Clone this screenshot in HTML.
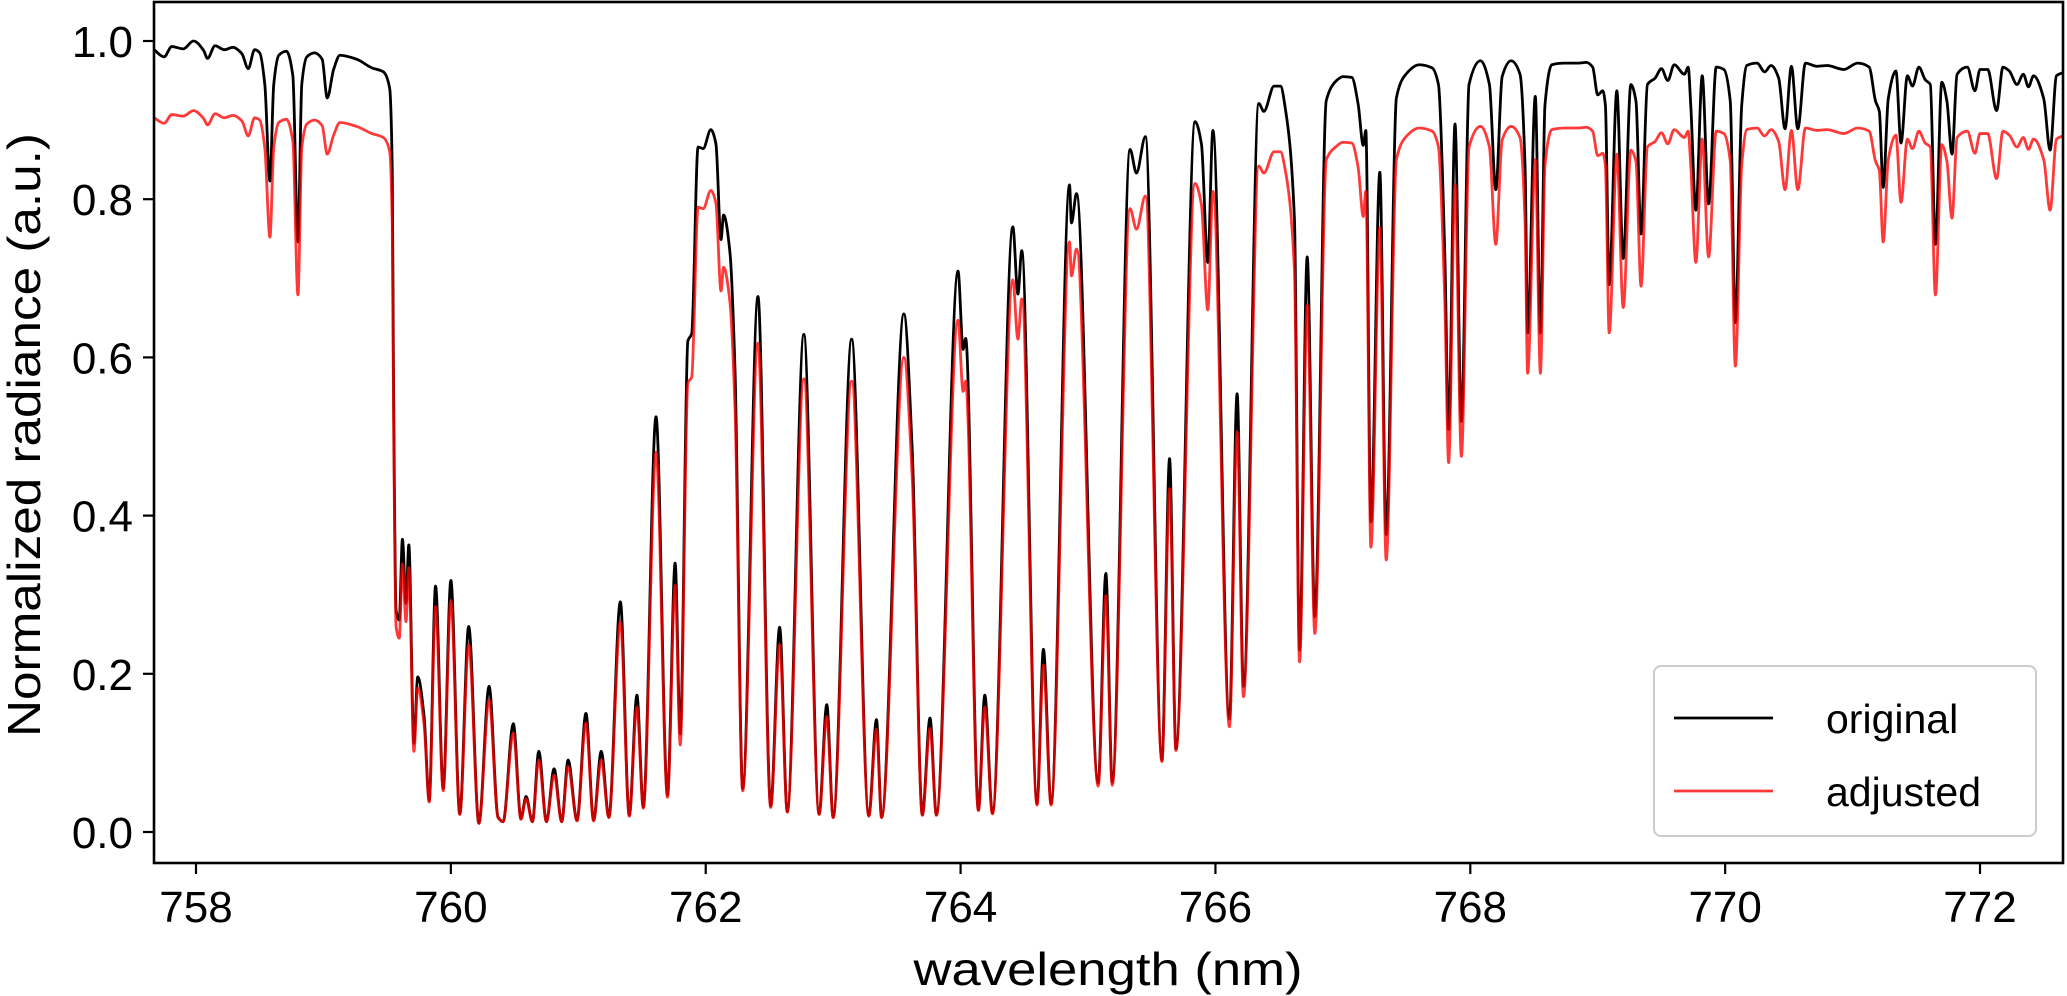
<!DOCTYPE html>
<html>
<head>
<meta charset="utf-8">
<style>
  html,body{margin:0;padding:0;background:#fff;}
  svg{display:block;}
  text{font-family:"Liberation Sans",Arial,sans-serif;fill:#000;}
</style>
</head>
<body>
<svg id="chart" width="2067" height="996" viewBox="0 0 2067 996" xmlns="http://www.w3.org/2000/svg">
  <g id="plot"></g>
  <g id="axes"></g>
  <text x="1108" y="985" text-anchor="middle" font-size="46" textLength="389" lengthAdjust="spacingAndGlyphs">wavelength (nm)</text>
  <text transform="translate(40,435) rotate(-90)" text-anchor="middle" font-size="46" textLength="604" lengthAdjust="spacingAndGlyphs">Normalized radiance (a.u.)</text>
  <g>
    <rect x="1654" y="666" width="382" height="170" rx="7" ry="7" fill="#fff" fill-opacity="0.85" stroke="#cccccc" stroke-width="2"/>
    <line x1="1674" y1="718" x2="1773" y2="718" stroke="#000" stroke-width="2.8"/>
    <text x="1826" y="733" font-size="41">original</text>
    <line x1="1674" y1="791" x2="1773" y2="791" stroke="rgba(255,0,0,0.78)" stroke-width="2.8"/>
    <text x="1826" y="806" font-size="41">adjusted</text>
  </g>
</svg>
<script>
const wavelengths = [757.67,757.75,757.81,757.90,757.98,758.06,758.09,758.15,758.22,758.29,758.36,758.41,758.46,758.50,758.54,758.58,758.61,758.65,758.71,758.76,758.80,758.83,758.87,758.93,758.99,759.03,759.08,759.13,759.26,759.38,759.47,759.52,759.54,759.55,759.57,759.595,759.62,759.648,759.67,759.71,759.74,759.79,759.83,759.88,759.94,760.00,760.07,760.14,760.22,760.30,760.37,760.41,760.49,760.55,760.59,760.64,760.69,760.75,760.81,760.87,760.92,760.99,761.06,761.12,761.18,761.24,761.33,761.40,761.46,761.51,761.61,761.70,761.76,761.80,761.86,761.89,761.94,761.98,762.04,762.08,762.12,762.14,762.19,762.23,762.29,762.41,762.51,762.58,762.64,762.77,762.89,762.95,763.00,763.145,763.28,763.34,763.38,763.555,763.62,763.70,763.76,763.81,763.98,764.02,764.04,764.14,764.19,764.25,764.41,764.45,764.48,764.60,764.65,764.71,764.855,764.87,764.91,765.08,765.14,765.19,765.33,765.38,765.45,765.58,765.64,765.69,765.84,765.89,765.94,765.98,766.11,766.17,766.22,766.34,766.38,766.46,766.51,766.55,766.62,766.66,766.72,766.78,766.87,766.95,767.00,767.07,767.12,767.16,767.18,767.22,767.29,767.34,767.42,767.48,767.60,767.70,767.75,767.80,767.83,767.88,767.93,767.99,768.08,768.15,768.20,768.25,768.32,768.39,768.43,768.45,768.51,768.55,768.586,768.64,768.74,768.85,768.91,768.96,769.00,769.04,769.06,769.09,769.15,769.20,769.26,769.30,769.34,769.39,769.45,769.50,769.55,769.60,769.68,769.71,769.73,769.77,769.82,769.87,769.93,769.99,770.04,770.08,770.13,770.17,770.25,770.31,770.36,770.42,770.47,770.52,770.57,770.63,770.72,770.80,770.93,771.04,771.13,771.18,771.21,771.24,771.28,771.34,771.38,771.43,771.47,771.52,771.57,771.61,771.65,771.70,771.74,771.78,771.82,771.90,771.96,772.00,772.06,772.13,772.18,772.23,772.29,772.34,772.38,772.42,772.50,772.55,772.60,772.65];
const original = [0.989,0.980,0.993,0.990,1.000,0.988,0.978,0.994,0.989,0.992,0.984,0.965,0.989,0.985,0.945,0.823,0.945,0.982,0.987,0.956,0.746,0.945,0.980,0.985,0.977,0.928,0.964,0.982,0.977,0.966,0.961,0.940,0.839,0.573,0.280,0.268,0.370,0.289,0.363,0.112,0.196,0.146,0.040,0.311,0.055,0.318,0.023,0.260,0.011,0.184,0.019,0.013,0.137,0.017,0.045,0.013,0.102,0.013,0.080,0.013,0.091,0.015,0.150,0.015,0.102,0.019,0.291,0.021,0.173,0.032,0.525,0.047,0.340,0.124,0.621,0.630,0.866,0.864,0.888,0.870,0.749,0.780,0.733,0.583,0.055,0.677,0.033,0.259,0.026,0.629,0.023,0.161,0.019,0.623,0.021,0.142,0.019,0.655,0.485,0.022,0.144,0.022,0.709,0.610,0.624,0.028,0.173,0.024,0.765,0.680,0.735,0.036,0.231,0.036,0.818,0.770,0.807,0.062,0.327,0.063,0.863,0.833,0.879,0.091,0.472,0.105,0.898,0.870,0.720,0.887,0.143,0.554,0.184,0.921,0.911,0.943,0.943,0.913,0.775,0.230,0.727,0.272,0.925,0.950,0.955,0.954,0.920,0.868,0.887,0.392,0.834,0.376,0.928,0.955,0.970,0.966,0.945,0.730,0.509,0.895,0.519,0.945,0.975,0.945,0.812,0.955,0.975,0.958,0.840,0.631,0.930,0.631,0.919,0.970,0.972,0.972,0.973,0.967,0.932,0.937,0.919,0.692,0.937,0.725,0.945,0.924,0.756,0.945,0.953,0.965,0.950,0.970,0.958,0.967,0.919,0.786,0.956,0.794,0.967,0.964,0.924,0.644,0.919,0.969,0.972,0.961,0.969,0.953,0.889,0.968,0.889,0.972,0.968,0.969,0.964,0.972,0.967,0.924,0.911,0.815,0.927,0.962,0.871,0.956,0.943,0.967,0.951,0.945,0.743,0.948,0.924,0.857,0.958,0.967,0.937,0.964,0.964,0.912,0.967,0.962,0.945,0.958,0.942,0.956,0.927,0.862,0.956,0.960];
const adjusted = [0.903,0.896,0.907,0.905,0.912,0.902,0.894,0.908,0.903,0.906,0.899,0.880,0.903,0.900,0.865,0.752,0.865,0.897,0.901,0.873,0.679,0.865,0.895,0.900,0.893,0.857,0.881,0.897,0.892,0.883,0.878,0.860,0.770,0.530,0.260,0.245,0.339,0.266,0.334,0.102,0.182,0.136,0.038,0.285,0.052,0.293,0.022,0.237,0.011,0.167,0.018,0.013,0.125,0.016,0.042,0.013,0.091,0.013,0.072,0.013,0.083,0.014,0.138,0.014,0.091,0.018,0.266,0.020,0.158,0.030,0.480,0.044,0.312,0.110,0.568,0.575,0.790,0.788,0.811,0.795,0.684,0.714,0.670,0.535,0.052,0.618,0.031,0.237,0.025,0.573,0.022,0.146,0.018,0.570,0.020,0.130,0.018,0.600,0.450,0.021,0.131,0.021,0.647,0.557,0.570,0.027,0.158,0.023,0.698,0.623,0.674,0.034,0.211,0.034,0.746,0.703,0.737,0.058,0.299,0.059,0.788,0.762,0.804,0.089,0.434,0.103,0.820,0.793,0.660,0.810,0.133,0.506,0.171,0.842,0.833,0.860,0.860,0.835,0.710,0.215,0.666,0.251,0.850,0.867,0.872,0.871,0.840,0.778,0.810,0.360,0.764,0.344,0.850,0.876,0.890,0.886,0.866,0.670,0.467,0.818,0.475,0.866,0.892,0.866,0.743,0.875,0.892,0.878,0.770,0.580,0.850,0.580,0.843,0.888,0.890,0.890,0.891,0.886,0.855,0.858,0.843,0.631,0.857,0.663,0.862,0.848,0.690,0.866,0.873,0.884,0.870,0.888,0.878,0.886,0.843,0.720,0.876,0.727,0.886,0.883,0.848,0.589,0.843,0.888,0.890,0.880,0.888,0.873,0.812,0.887,0.812,0.890,0.887,0.888,0.883,0.890,0.886,0.848,0.836,0.746,0.850,0.881,0.796,0.876,0.864,0.886,0.871,0.866,0.679,0.869,0.848,0.776,0.878,0.886,0.858,0.883,0.883,0.826,0.886,0.881,0.866,0.878,0.863,0.876,0.850,0.786,0.876,0.880];
const xTicks = [758,760,762,764,766,768,770,772];
const xTickLabels = ["758","760","762","764","766","768","770","772"];
const yTicks = [0.0,0.2,0.4,0.6,0.8,1.0];
const yTickLabels = ["0.0","0.2","0.4","0.6","0.8","1.0"];

const NS = "http://www.w3.org/2000/svg";
const L = 154, R = 2063, T = 2, B = 863;
function xs(v){ return 196 + (v - 758) * 127.43; }
function ys(v){ return 832 - v * 791; }

function monotonePath(px, py){
  const n = px.length, d = [], m = new Array(n);
  for (let i=0;i<n-1;i++) d.push((py[i+1]-py[i])/(px[i+1]-px[i]));
  m[0]=d[0]; m[n-1]=d[n-2];
  for (let i=1;i<n-1;i++){
    if (d[i-1]*d[i] <= 0) m[i]=0;
    else { const w1=2*(px[i+1]-px[i])+(px[i]-px[i-1]), w2=(px[i+1]-px[i])+2*(px[i]-px[i-1]);
      m[i]=(w1+w2)/(w1/d[i-1]+w2/d[i]); }
  }
  let s = "M"+px[0].toFixed(2)+","+py[0].toFixed(2);
  for (let i=0;i<n-1;i++){
    const h=(px[i+1]-px[i])/3;
    s += "C"+(px[i]+h).toFixed(2)+","+(py[i]+m[i]*h).toFixed(2)+" "+(px[i+1]-h).toFixed(2)+","+(py[i+1]-m[i+1]*h).toFixed(2)+" "+px[i+1].toFixed(2)+","+py[i+1].toFixed(2);
  }
  return s;
}

const plot = document.getElementById("plot");
const defs = document.createElementNS(NS,"defs");
defs.innerHTML = '<clipPath id="clip"><rect x="'+L+'" y="'+T+'" width="'+(R-L)+'" height="'+(B-T)+'"/></clipPath>';
plot.appendChild(defs);
const g = document.createElementNS(NS,"g");
g.setAttribute("clip-path","url(#clip)");
plot.appendChild(g);
const px = wavelengths.map(xs);

const p1 = document.createElementNS(NS,"path");
p1.setAttribute("d", monotonePath(px, original.map(ys)));
p1.setAttribute("fill","none");
p1.setAttribute("stroke","#000");
p1.setAttribute("stroke-width","2.8");
p1.setAttribute("stroke-linejoin","round");


g.appendChild(p1);

const p2 = document.createElementNS(NS,"path");
p2.setAttribute("d", monotonePath(px, adjusted.map(ys)));
p2.setAttribute("fill","none");
p2.setAttribute("stroke","rgba(255,0,0,0.78)");
p2.setAttribute("stroke-width","2.8");
p2.setAttribute("stroke-linejoin","round");


g.appendChild(p2);

const axes = document.getElementById("axes");
const frame = document.createElementNS(NS,"rect");
frame.setAttribute("x",L); frame.setAttribute("y",T);
frame.setAttribute("width",R-L); frame.setAttribute("height",B-T);
frame.setAttribute("fill","none"); frame.setAttribute("stroke","#000"); frame.setAttribute("stroke-width","2.6");


axes.appendChild(frame);

xTicks.forEach((v,i)=>{
  const x = xs(v);
  const t = document.createElementNS(NS,"line");
  t.setAttribute("x1",x); t.setAttribute("x2",x); t.setAttribute("y1",B); t.setAttribute("y2",B+11);
  t.setAttribute("stroke","#000"); t.setAttribute("stroke-width","2.2");
  
  
  axes.appendChild(t);
  const tx = document.createElementNS(NS,"text");
  tx.setAttribute("x",x); tx.setAttribute("y",922); tx.setAttribute("text-anchor","middle"); tx.setAttribute("font-size","44");
  tx.textContent = xTickLabels[i];
  
  
  axes.appendChild(tx);
});
yTicks.forEach((v,i)=>{
  const y = ys(v);
  const t = document.createElementNS(NS,"line");
  t.setAttribute("x1",L-11); t.setAttribute("x2",L); t.setAttribute("y1",y); t.setAttribute("y2",y);
  t.setAttribute("stroke","#000"); t.setAttribute("stroke-width","2.2");
  
  
  axes.appendChild(t);
  const tx = document.createElementNS(NS,"text");
  tx.setAttribute("x",133); tx.setAttribute("y",y+16); tx.setAttribute("text-anchor","end"); tx.setAttribute("font-size","44");
  tx.textContent = yTickLabels[i];
  
  
  axes.appendChild(tx);
});
</script>
</body>
</html>
